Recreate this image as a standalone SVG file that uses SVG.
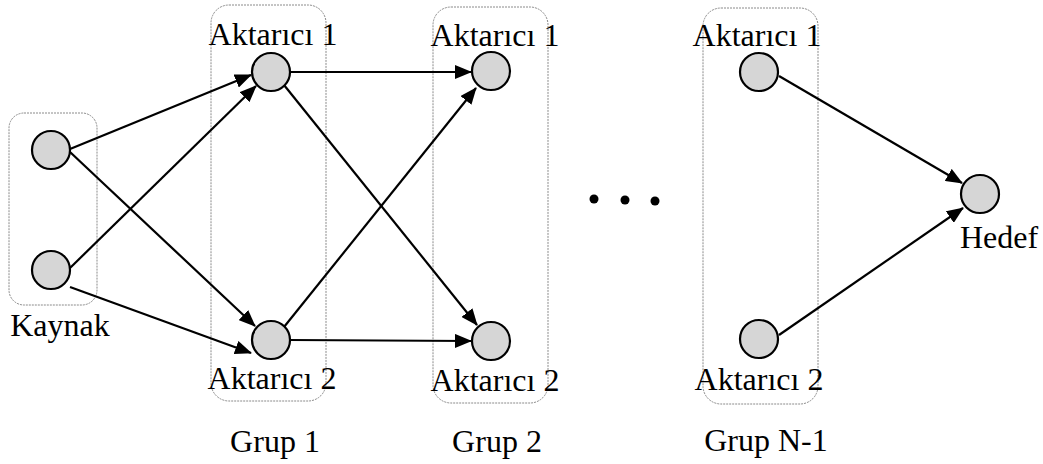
<svg xmlns="http://www.w3.org/2000/svg" width="1043" height="464" viewBox="0 0 1043 464">
<style>
.grp{fill:none;stroke:#8a8a8a;stroke-width:1;stroke-dasharray:2,1}
.nd{fill:#d6d6d6;stroke:#000;stroke-width:2.2}
.lbl{font-size:32px;fill:#000;text-anchor:middle}
.ed{stroke:#000;stroke-width:2.2;fill:none;marker-end:url(#ah)}
</style>
<defs>
<marker id="ah" markerUnits="userSpaceOnUse" markerWidth="17" markerHeight="14" refX="16" refY="7" orient="auto">
<path d="M0,0 L17,7 L0,14 z" fill="#000"/>
</marker>
</defs>
<rect width="1043" height="464" fill="#fff"/>
<g id="groups">
<rect id="box-kaynak" class="grp" x="9" y="113" width="88" height="192" rx="15"/>
<rect id="box-grup1" class="grp" x="211" y="5" width="115" height="396" rx="18"/>
<rect id="box-grup2" class="grp" x="433" y="7" width="115" height="396" rx="18"/>
<rect id="box-grupn1" class="grp" x="703" y="8" width="115" height="396" rx="18"/>
</g>
<g id="connectors">
<line class="ed" x1="70" y1="149" x2="251" y2="75"/>
<line class="ed" x1="70" y1="152" x2="255" y2="326"/>
<line class="ed" x1="70" y1="268" x2="256" y2="86"/>
<line class="ed" x1="70" y1="287" x2="251" y2="353"/>
<line class="ed" x1="290" y1="72" x2="471" y2="72"/>
<line class="ed" x1="284" y1="85" x2="477" y2="325"/>
<line class="ed" x1="284" y1="327" x2="476" y2="88"/>
<line class="ed" x1="290" y1="340" x2="471" y2="341"/>
<line class="ed" x1="779" y1="76" x2="962" y2="183"/>
<line class="ed" x1="779" y1="335" x2="963" y2="208"/>
</g>
<g id="kaynak" font-family="'Liberation Serif', 'Times New Roman', 'DejaVu Serif', serif">
<circle id="kaynak-1" class="nd" cx="51" cy="150" r="19"/>
<circle id="kaynak-2" class="nd" cx="51" cy="270" r="19"/>
<text class="lbl" x="60" y="336">Kaynak</text>
</g>
<g id="grup1" font-family="'Liberation Serif', 'Times New Roman', 'DejaVu Serif', serif">
<circle id="g1-a1" class="nd" cx="271" cy="72" r="19"/>
<circle id="g1-a2" class="nd" cx="271" cy="340" r="19"/>
<text class="lbl" x="273" y="45">Aktarıcı 1</text>
<text class="lbl" x="272" y="389">Aktarıcı 2</text>
<text class="lbl" x="275" y="452">Grup 1</text>
</g>
<g id="grup2" font-family="'Liberation Serif', 'Times New Roman', 'DejaVu Serif', serif">
<circle id="g2-a1" class="nd" cx="491" cy="71" r="19"/>
<circle id="g2-a2" class="nd" cx="491" cy="341" r="19"/>
<text class="lbl" x="495" y="46">Aktarıcı 1</text>
<text class="lbl" x="495" y="391">Aktarıcı 2</text>
<text class="lbl" x="497" y="452">Grup 2</text>
</g>
<g id="dots">
<circle cx="594" cy="199" r="4.5" fill="#000"/>
<circle cx="625" cy="200" r="4.5" fill="#000"/>
<circle cx="655" cy="201" r="4.5" fill="#000"/>
</g>
<g id="grupn1" font-family="'Liberation Serif', 'Times New Roman', 'DejaVu Serif', serif">
<circle id="gn-a1" class="nd" cx="759" cy="72" r="19"/>
<circle id="gn-a2" class="nd" cx="759" cy="339" r="19"/>
<text class="lbl" x="757" y="46">Aktarıcı 1</text>
<text class="lbl" x="759" y="390">Aktarıcı 2</text>
<text class="lbl" x="766" y="451">Grup N-1</text>
</g>
<g id="hedef" font-family="'Liberation Serif', 'Times New Roman', 'DejaVu Serif', serif">
<circle id="hedef-node" class="nd" cx="980" cy="194" r="19"/>
<text class="lbl" x="999" y="248">Hedef</text>
</g>
</svg>
